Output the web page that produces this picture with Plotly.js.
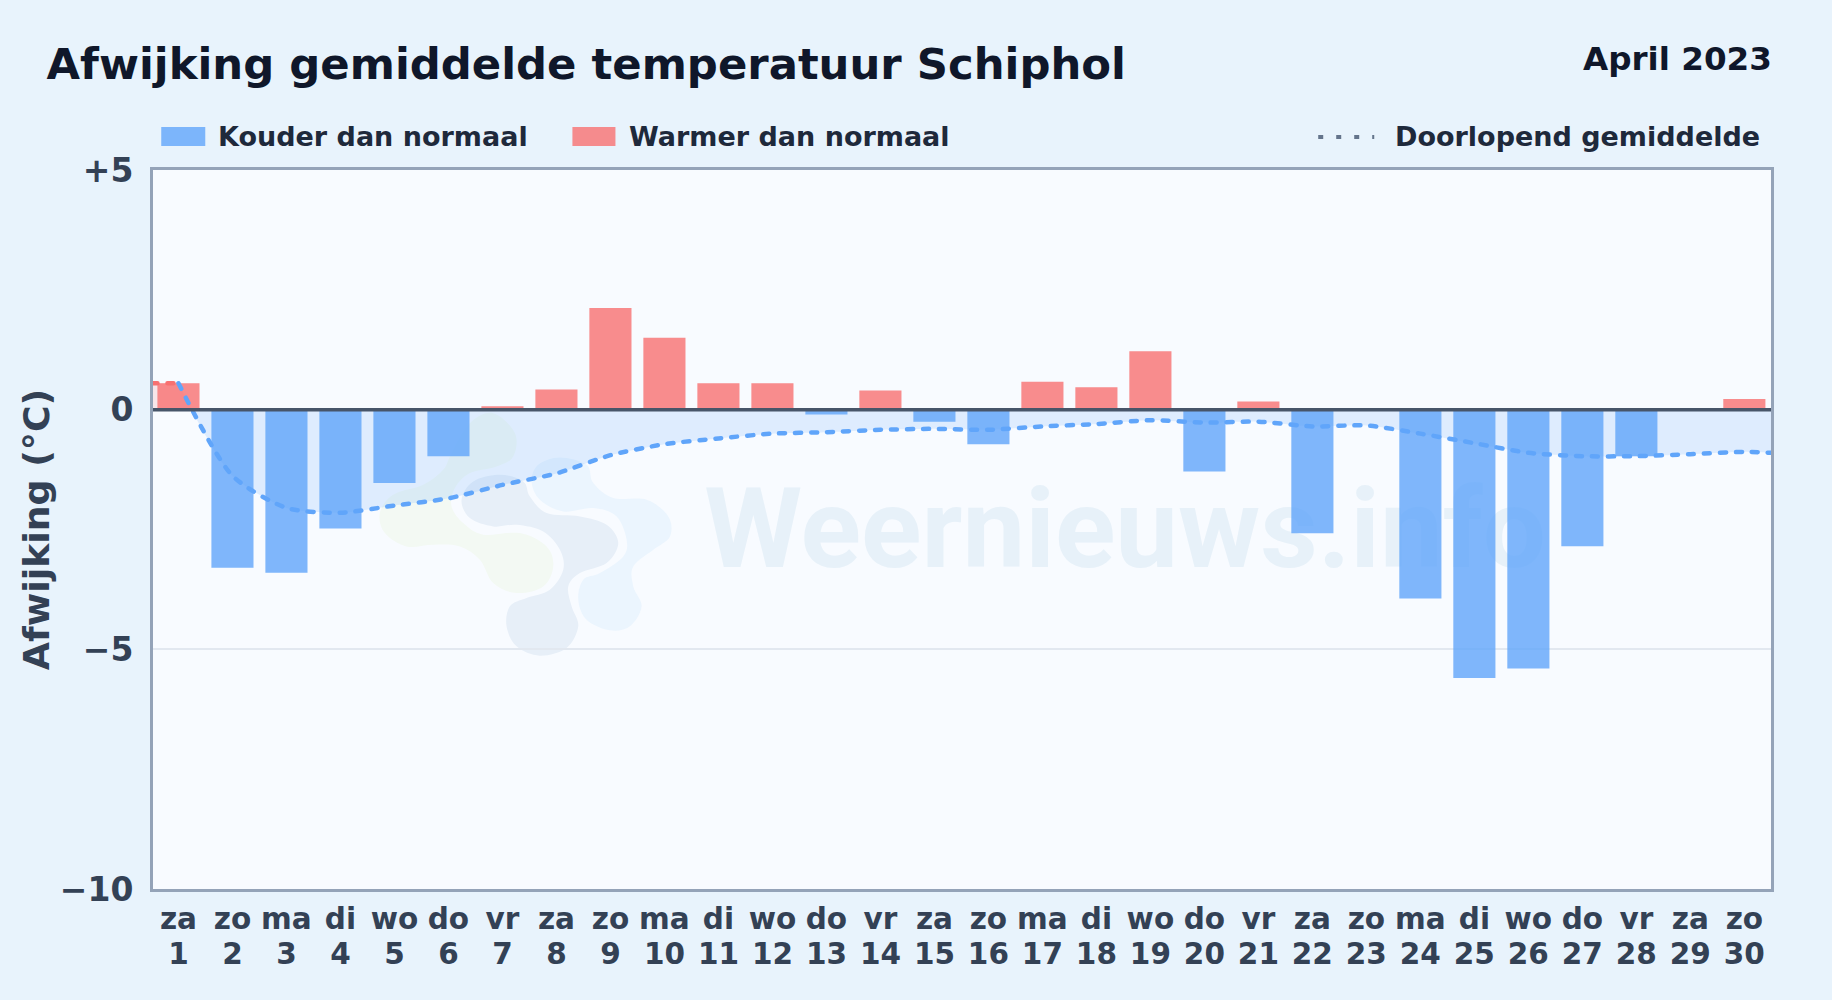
<!DOCTYPE html>
<html><head><meta charset="utf-8">
<script src="https://cdn.plot.ly/plotly-3.0.1.min.js"></script>
<style>
html,body{margin:0;padding:0;width:1832px;height:1000px;overflow:hidden;background:#e8f3fc}
#chart{width:1832px;height:1000px}
.scatterlayer .js-line{stroke-linecap:round}
</style></head><body><div id="chart"></div>
<script>
const weekdays=["za","zo","ma","di","wo","do","vr","za","zo","ma","di","wo","do","vr","za","zo","ma","di","wo","do","vr","za","zo","ma","di","wo","do","vr","za","zo"];
const days=[1,2,3,4,5,6,7,8,9,10,11,12,13,14,15,16,17,18,19,20,21,22,23,24,25,26,27,28,29,30];
const anomaly=[0.55,-3.3,-3.4,-2.48,-1.53,-0.97,0.07,0.42,2.12,1.5,0.55,0.55,-0.1,0.4,-0.25,-0.72,0.58,0.47,1.22,-1.29,0.17,-2.58,0,-3.94,-5.6,-5.4,-2.85,-0.97,0,0.22];
const meanX=[1,2,3,4,5,6,7,8,9,10,11,12,13,14,15,16,17,18,19,20,21,22,23,24,25,26,27,28,29,30,30.5];
const meanY=[0.55,-1.38,-2.05,-2.15,-2.0,-1.85,-1.57,-1.33,-0.95,-0.72,-0.6,-0.5,-0.47,-0.42,-0.4,-0.42,-0.35,-0.3,-0.22,-0.27,-0.25,-0.35,-0.33,-0.5,-0.7,-0.9,-0.97,-0.97,-0.93,-0.88,-0.9];
const startX=[0.5,1], startY=[0.55,0.55];
const crossX=1.24;
const yTicks=[5,0,-5,-10], yLabels=["+5","0","−5","−10"];
const titleText="Afwijking gemiddelde temperatuur Schiphol", periodText="April 2023", yTitle="Afwijking (°C)";
const legendCold="Kouder dan normaal", legendWarm="Warmer dan normaal", legendMean="Doorlopend gemiddelde", watermark="Weernieuws.info";

const W=1832,H=1000,L=153.25,R=1770.6,T=170,B=889.5;
const xRange=[0.5285,30.4935];
const fx=p=>(p-L)/(R-L), fy=p=>(B-p)/(B-T);
const FONT="DejaVu Sans";
const bold=(size,color)=>({family:FONT,size:size,color:color,weight:700});

const blobGreen=[[400,10],[465,70],[460,140],[410,170],[330,190],[285,235],[275,290],[310,340],[370,375],[480,370],[560,410],[580,470],[550,530],[470,550],[400,520],[360,450],[300,410],[220,405],[140,410],[75,370],[60,310],[100,255],[190,225],[250,180],[275,130],[330,40]];
const blobGrey=[[420,195],[490,215],[510,260],[560,310],[660,320],[740,345],[775,400],[740,460],[660,490],[625,530],[635,590],[655,650],[620,715],[540,738],[470,710],[440,650],[450,590],[500,565],[570,540],[610,480],[600,420],[550,365],[470,345],[400,350],[330,325],[305,270],[340,215]];
const blobBlue=[[600,143],[680,165],[700,220],[760,265],[860,270],[925,320],[930,380],[880,420],[820,470],[820,530],[845,590],[810,650],[750,662],[680,630],[655,570],[670,510],[720,490],[790,440],[800,390],[770,320],[700,295],[610,305],[540,270],[515,215],[535,165]];
function blobPath(pts){
  const P=pts.map(p=>[fx(360+p[0]/3),fy(410+p[1]/3)]),n=P.length;
  let d=`M${P[0][0]},${P[0][1]}`;
  for(let i=0;i<n;i++){
    const a=P[(i-1+n)%n],b=P[i],c=P[(i+1)%n],e=P[(i+2)%n];
    d+=`C${b[0]+(c[0]-a[0])/6},${b[1]+(c[1]-a[1])/6} ${c[0]-(e[0]-b[0])/6},${c[1]-(e[1]-b[1])/6} ${c[0]},${c[1]}`;
  }
  return d+"Z";
}
const blob=(pts,color)=>({type:"path",layer:"below",xref:"paper",yref:"paper",path:blobPath(pts),fillcolor:color,line:{width:0}});
const swatch=(x0,x1,color)=>({type:"rect",xref:"paper",yref:"paper",x0:fx(x0),x1:fx(x1),y0:fy(146),y1:fy(127),fillcolor:color,line:{width:0}});
const label=(x,y,text,font,anchor)=>({xref:"paper",yref:"paper",x:fx(x),y:fy(y),text:text,font:font,xanchor:anchor||"left",yanchor:"middle",showarrow:false,borderpad:0});

const data=[
 {type:"bar",x:days,y:anomaly,width:0.78,showlegend:false,hoverinfo:"x+y",
  marker:{color:anomaly.map(v=>v<0?"rgba(96,165,250,0.8)":"rgba(248,113,113,0.8)"),line:{width:0}}},
 {type:"scatter",mode:"lines",x:[crossX].concat(meanX.slice(1)),y:[0].concat(meanY.slice(1)),fill:"tozeroy",fillcolor:"rgba(96,165,250,0.17)",line:{width:0,shape:"spline",smoothing:0.7},showlegend:false,hoverinfo:"skip"},
 {type:"scatter",mode:"lines",x:startX.concat([crossX]),y:startY.concat([0]),fill:"tozeroy",fillcolor:"rgba(248,113,113,0.15)",line:{width:0},showlegend:false,hoverinfo:"skip"},
 {type:"scatter",mode:"lines",x:startX,y:startY,line:{color:"#f87171",width:4.5,dash:"6px,10px"},showlegend:false,hoverinfo:"skip"},
 {type:"scatter",mode:"lines",x:meanX,y:meanY,line:{color:"#60a5fa",width:4.5,dash:"6px,10px",shape:"spline",smoothing:0.7},showlegend:false},
 {type:"scatter",mode:"none",x:days,y:anomaly,xaxis:"x2",showlegend:false,hoverinfo:"skip"}
];
const layout={
 width:W,height:H,paper_bgcolor:"#e8f3fc",plot_bgcolor:"#f8fbff",
 margin:{l:L,r:W-R,t:T,b:H-B,pad:0},
 font:{family:FONT},
 title:{text:titleText,font:bold(43.35,"#0f172a"),x:46.5/W,xanchor:"left",xref:"container",y:1-64/H,yanchor:"middle"},
 xaxis:{range:xRange,tickmode:"array",tickvals:days,ticktext:weekdays,
  tickfont:bold(29.5,"#334155"),ticks:"",ticklabelstandoff:2,showgrid:false,zeroline:false,showline:true,mirror:true,linecolor:"#94a3b8",linewidth:3,fixedrange:true,tickangle:0},
 xaxis2:{overlaying:"x",anchor:"y",side:"bottom",range:xRange,tickmode:"array",tickvals:days,ticktext:days.map(String),
  tickfont:bold(29.5,"#334155"),ticks:"",ticklabelstandoff:44,showgrid:false,zeroline:false,showline:false,fixedrange:true,tickangle:0},
 yaxis:{range:[-10,5],tickmode:"array",tickvals:yTicks,ticktext:yLabels,tickfont:bold(33,"#334155"),ticks:"",
  ticklabelstandoff:10,showgrid:true,gridcolor:"#e2e8f0",gridwidth:2,zeroline:false,showline:true,mirror:true,linecolor:"#94a3b8",linewidth:3,fixedrange:true,
  title:{text:yTitle,font:bold(36.3,"#334155"),standoff:0}},
 shapes:[
  blob(blobGreen,"#f3f9f3"),blob(blobGrey,"#e7eff8"),blob(blobBlue,"#ebf5fe"),
  {type:"rect",layer:"below",xref:"paper",yref:"paper",x0:fx(702),x1:fx(1548),y0:fy(568),y1:fy(474),line:{width:0},fillcolor:"rgba(0,0,0,0)",
   label:{text:watermark,textposition:"middle center",font:{family:"Roboto",size:112,color:"#e7f1f9",weight:700}}},
  {type:"line",layer:"above",xref:"paper",yref:"y",x0:0,x1:1,y0:0,y1:0,line:{color:"#475569",width:3.5}},
  swatch(161.5,205.5,"rgba(96,165,250,0.8)"),swatch(572.5,615.5,"rgba(248,113,113,0.8)"),
  {type:"line",xref:"paper",yref:"paper",x0:fx(1318),x1:fx(1374),y0:fy(137),y1:fy(137),line:{color:"#64748b",width:4,dash:"5px,13px"}}
 ],
 annotations:[
  label(1773,59,periodText,bold(32.6,"#0f172a"),"right"),
  label(217.5,136,legendCold,bold(27,"#1e293b")),
  label(628.5,136,legendWarm,bold(27,"#1e293b")),
  label(1394,136,legendMean,bold(27,"#1e293b"))
 ]
};
Plotly.newPlot("chart",data,layout,{displayModeBar:false,staticPlot:true});
</script></body></html>
